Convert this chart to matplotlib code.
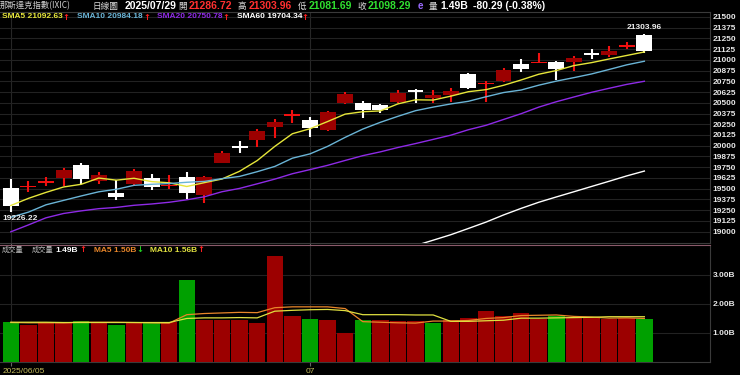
import numpy as np
import matplotlib
matplotlib.use("Agg")
import matplotlib.pyplot as plt
import matplotlib.transforms as mtransforms

# Daily candles, 2025/06/05 .. 2025/07/29
dates = ["06/05", "06/06", "06/09", "06/10", "06/11", "06/12", "06/13", "06/16", "06/17",
         "06/18", "06/20", "06/23", "06/24", "06/25", "06/26", "06/27", "06/30", "07/01",
         "07/02", "07/03", "07/07", "07/08", "07/09", "07/10", "07/11", "07/14", "07/15",
         "07/16", "07/17", "07/18", "07/21", "07/22", "07/23", "07/24", "07/25", "07/28",
         "07/29"]
opens = [19511, 19515, 19569, 19620, 19775, 19588, 19445, 19550, 19620, 19525, 19632,
         19425, 19802, 19992, 20066, 20214, 20350, 20300, 20183, 20494, 20494, 20474,
         20513, 20645, 20552, 20591, 20830, 20720, 20754, 20950, 20965, 20979, 20979,
         21080, 21060, 21150, 21286.72]
highs = [19608, 19589, 19639, 19737, 19802, 19697, 19600, 19728, 19667, 19659, 19690,
         19647, 19942, 20055, 20191, 20311, 20416, 20338, 20404, 20630, 20521, 20486,
         20649, 20657, 20649, 20676, 20850, 20754, 20910, 21010, 21077, 20990, 21049,
         21123, 21162, 21212, 21303.96]
lows = [19226.22, 19464, 19534, 19534, 19554, 19554, 19367, 19530, 19484, 19492, 19375,
        19336, 19795, 19918, 19981, 20093, 20268, 20105, 20175, 20483, 20326, 20385,
        20494, 20501, 20501, 20513, 20665, 20509, 20740, 20860, 20960, 20766, 20874,
        21007, 21037, 21127, 21081.69]
closes = [19298.45, 19529.95, 19591.24, 19714.99, 19615.88, 19662.49, 19406.83, 19701.21,
          19521.09, 19546.27, 19447.41, 19630.97, 19912.53, 19973.55, 20167.91, 20273.46,
          20369.73, 20202.89, 20393.13, 20601.10, 20412.52, 20418.46, 20611.34, 20630.67,
          20585.53, 20640.33, 20677.80, 20730.49, 20885.65, 20895.66, 20974.17, 20892.69,
          21020.02, 21057.96, 21108.32, 21178.58, 21098.29]

sma5 = [19302.86, 19386.09, 19455.82, 19519.02, 19550.10, 19622.91, 19598.29, 19620.28,
        19581.50, 19567.58, 19524.56, 19569.39, 19611.65, 19702.15, 19826.47, 19991.68,
        20139.44, 20197.51, 20281.42, 20368.06, 20395.87, 20405.62, 20487.31, 20534.82,
        20531.70, 20577.27, 20629.13, 20652.96, 20703.96, 20765.99, 20832.75, 20875.73,
        20933.64, 20968.10, 21010.63, 21051.51, 21092.63]
sma10 = [19165.32, 19225.74, 19311.14, 19362.73, 19414.22, 19462.88, 19492.19, 19538.05,
         19550.26, 19558.84, 19573.74, 19583.84, 19615.97, 19641.82, 19697.03, 19758.12,
         19854.41, 19904.58, 19991.79, 20097.27, 20193.78, 20272.53, 20342.41, 20408.12,
         20449.88, 20486.57, 20517.38, 20570.14, 20619.39, 20648.85, 20705.01, 20752.43,
         20793.30, 20836.03, 20888.31, 20942.13, 20984.18]
sma20 = [18996.49, 19076.58, 19159.69, 19210.02, 19240.31, 19266.10, 19280.82, 19305.33,
         19320.61, 19340.79, 19369.53, 19404.79, 19463.56, 19502.28, 19555.62, 19610.50,
         19673.30, 19721.32, 19771.02, 19828.05, 19883.76, 19928.18, 19979.19, 20024.97,
         20073.45, 20122.35, 20185.90, 20237.36, 20305.59, 20373.06, 20449.39, 20512.48,
         20567.86, 20622.08, 20669.10, 20714.35, 20750.78]
# SMA60 only shows up from 07/09 on (lower values are below the panel)
sma60 = [np.nan] * 22 + [18771.1, 18836.2, 18898.8, 18962.4, 19035.3, 19109.4, 19193.0,
                         19269.6, 19340.7, 19402.8, 19463.4, 19524.9, 19585.7, 19647.9,
                         19704.34]

# volume, billions
volume = [1.38, 1.28, 1.38, 1.38, 1.41, 1.38, 1.28, 1.34, 1.34, 1.38, 2.83, 1.45, 1.45,
          1.45, 1.34, 3.66, 1.59, 1.48, 1.45, 1.00, 1.45, 1.45, 1.41, 1.41, 1.34, 1.45,
          1.52, 1.76, 1.59, 1.69, 1.47, 1.59, 1.52, 1.50, 1.48, 1.51, 1.49]
vol_ma5 = [1.36, 1.35, 1.35, 1.35, 1.37, 1.37, 1.37, 1.36, 1.35, 1.34, 1.63, 1.67, 1.69,
           1.71, 1.70, 1.87, 1.90, 1.90, 1.90, 1.84, 1.39, 1.37, 1.35, 1.34, 1.41, 1.41,
           1.43, 1.50, 1.53, 1.60, 1.61, 1.62, 1.57, 1.55, 1.51, 1.52, 1.50]
vol_ma10 = [1.37, 1.37, 1.37, 1.36, 1.36, 1.36, 1.36, 1.36, 1.36, 1.36, 1.50, 1.52, 1.52,
            1.53, 1.52, 1.75, 1.78, 1.80, 1.81, 1.77, 1.63, 1.63, 1.63, 1.62, 1.62, 1.40,
            1.40, 1.42, 1.44, 1.51, 1.51, 1.52, 1.53, 1.54, 1.56, 1.56, 1.56]

price_ticks = list(range(19000, 21501, 125))
vol_ticks = [1, 2, 3]
date_ticks = [0, 17]
date_labels = ["2025/06/05", "07"]

W, H = 740, 375
CJK = ["Noto Sans CJK TC", "DejaVu Sans"]
LAT = ["Liberation Sans", "DejaVu Sans"]
ARW = ["DejaVu Sans"]
UP_BODY, UP_WICK = "#9c0000", "#f01010"
ARROW_UP, ARROW_DN = "#ff2020", "#20d020"

fig = plt.figure(figsize=(W / 100, H / 100), dpi=100, facecolor="black")


def px_axes(x0, y0, x1, y1):
    return fig.add_axes([x0 / W, 1 - y1 / H, (x1 - x0) / W, (y1 - y0) / H])


def ftext(x, y, s, color, size=6, weight="bold", family=LAT):
    fig.text(x / W, 1 - y / H, s, color=color, fontsize=size, fontweight=weight,
             family=family, ha="left", va="center")


ax = px_axes(0, 12, 710, 243)
axv = px_axes(0, 245, 710, 362)

x = np.arange(len(closes))
for a in (ax, axv):
    a.set_facecolor("black")
    a.set_xlim(-0.614, 39.73)
    for s in a.spines.values():
        s.set_color("#3a3a3a")
    a.spines["left"].set_visible(False)
    for t in date_ticks:
        a.axvline(t, color="#262626", lw=0.8, zorder=0)
    a.yaxis.tick_right()
    a.tick_params(axis="y", length=0, pad=2, labelsize=6, labelcolor="#e6e6e6")
    a.tick_params(axis="x", colors="#666666", length=3, labelbottom=False)
    a.set_xticks(date_ticks)
axv.spines["top"].set_color("#8a5a6a")

# price panel
ax.set_ylim(18866, 21558)
ax.set_yticks(price_ticks)
ax.set_yticklabels([str(t) for t in price_ticks], fontweight="bold", family=LAT)
for t in price_ticks:
    ax.axhline(t, color="#222222", lw=0.8, zorder=0)

ups = [c >= o for o, c in zip(opens, closes)]
wick_c = [UP_WICK if u else "white" for u in ups]
body_c = [UP_BODY if u else "white" for u in ups]
ax.vlines(x, lows, highs, colors=wick_c, lw=1.5, zorder=3)
bottoms = [min(o, c) for o, c in zip(opens, closes)]
heights = [max(abs(c - o), 14) for o, c in zip(opens, closes)]
thin_c = [UP_WICK if (u and abs(c - o) < 30) else bc
          for u, o, c, bc in zip(ups, opens, closes, body_c)]
ax.bar(x, heights, width=0.9, bottom=bottoms, color=thin_c, lw=0, zorder=4)

ax.plot(x, sma5, color="#e6e63a", lw=1.0, zorder=5)
ax.plot(x, sma10, color="#6ab4d6", lw=1.0, zorder=5)
ax.plot(x, sma20, color="#8e2ae6", lw=1.0, zorder=5)
ax.plot(x, sma60, color="white", lw=1.0, zorder=5)

ax.annotate(f"{highs[-1]:.2f}", (x[-1], highs[-1]), xytext=(0, 2),
            textcoords="offset points", ha="center", va="bottom", color="#eeeeee",
            fontsize=6, fontweight="bold", family=LAT, zorder=6)
ax.annotate(f"{lows[0]:.2f}", (-0.45, lows[0]), xytext=(0, -2),
            textcoords="offset points", ha="left", va="top", color="#eeeeee",
            fontsize=6, fontweight="bold", family=LAT, zorder=6)

# volume panel
axv.set_ylim(0, 4.03)
axv.set_yticks(vol_ticks)
axv.set_yticklabels([f"{t:.2f}B" for t in vol_ticks], fontweight="bold", family=LAT)
for t in vol_ticks:
    axv.axhline(t, color="#222222", lw=0.8, zorder=0)
vcol = ["#00a000"] + ["#9c0000" if closes[i] >= closes[i - 1] else "#00a000"
                      for i in range(1, len(closes))]
axv.bar(x, volume, width=0.94, color=vcol, lw=0, zorder=3)
axv.plot(x, vol_ma5, color="#e8862a", lw=0.9, zorder=4)
axv.plot(x, vol_ma10, color="#e0e040", lw=0.9, zorder=4)

trans = mtransforms.blended_transform_factory(axv.transData, axv.transAxes)
axv.text(-0.45, -0.05, date_labels[0], transform=trans, ha="left", va="top",
         color="#c4bc5c", fontsize=6, family=LAT)
axv.text(date_ticks[1], -0.05, date_labels[1], transform=trans, ha="center", va="top",
         color="#c4bc5c", fontsize=6, family=LAT)

# header line
y1 = 6
ftext(0, y1, "那斯達克指數(IXIC)", "#cfcfcf", 6, "normal", CJK)
ftext(93, y1, "日線圖", "#dddddd", 6.2, "normal", CJK)
ftext(125, y1, "2025/07/29", "white", 7.5)
ftext(178, y1, "開", "#dddddd", 6.2, "normal", CJK)
ftext(189, y1, f"{opens[-1]:.2f}", "#ff3030", 7.5)
ftext(238, y1, "高", "#dddddd", 6.2, "normal", CJK)
ftext(249, y1, f"{highs[-1]:.2f}", "#ff3030", 7.5)
ftext(298, y1, "低", "#dddddd", 6.2, "normal", CJK)
ftext(309, y1, f"{lows[-1]:.2f}", "#30e030", 7.5)
ftext(357, y1, "收", "#dddddd", 6.2, "normal", CJK)
ftext(368, y1, f"{closes[-1]:.2f}", "#30e030", 7.5)
ftext(418, y1, "e", "#9a6aff", 7)
ftext(429, y1, "量", "#dddddd", 6.2, "normal", CJK)
ftext(440, y1, f"{volume[-1]:.2f}B", "white", 7.5)
chg = closes[-1] - closes[-2]
ftext(473, y1, f"{chg:.2f} ({chg / closes[-2] * 100:.2f}%)", "white", 7.5)

# SMA legend
y2 = 17
ftext(2, y2, f"SMA5 {sma5[-1]:.2f}", "#e6e63a", 6)
ftext(62, y2, "↑", ARROW_UP, 6, family=ARW)
ftext(77, y2, f"SMA10 {sma10[-1]:.2f}", "#6ab4d6", 6)
ftext(143, y2, "↑", ARROW_UP, 6, family=ARW)
ftext(157, y2, f"SMA20 {sma20[-1]:.2f}", "#8e2ae6", 6)
ftext(222, y2, "↑", ARROW_UP, 6, family=ARW)
ftext(237, y2, f"SMA60 {sma60[-1]:.2f}", "white", 6)
ftext(301, y2, "↑", ARROW_UP, 6, family=ARW)

# volume legend
y3 = 250
ftext(2, y3, "成交量", "#bbbbbb", 5.2, "normal", CJK)
ftext(32, y3, "成交量", "#bbbbbb", 5.2, "normal", CJK)
ftext(55, y3, f"{volume[-1]:.2f}B", "white", 6)
ftext(79, y3, "↑", ARROW_UP, 6, family=ARW)
ftext(94, y3, f"MA5 {vol_ma5[-1]:.2f}B", "#e8862a", 6)
ftext(136, y3, "↓", ARROW_DN, 6, family=ARW)
ftext(150, y3, f"MA10 {vol_ma10[-1]:.2f}B", "#e0e040", 6)
ftext(197, y3, "↑", ARROW_UP, 6, family=ARW)

fig.savefig("out.png", dpi=100, facecolor="black")
